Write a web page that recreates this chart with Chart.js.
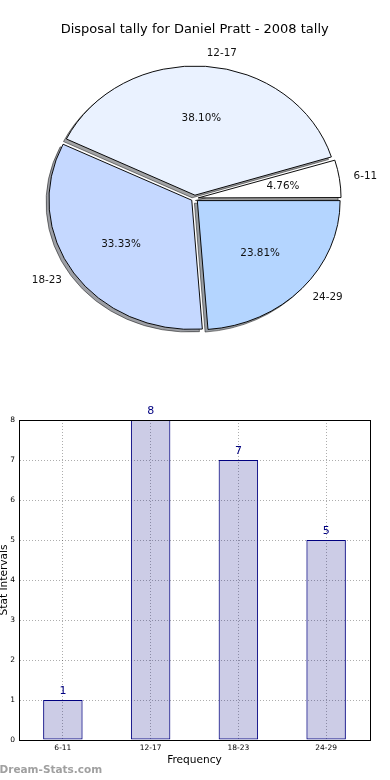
<!DOCTYPE html>
<html><head><meta charset="utf-8">
<script src="https://cdn.jsdelivr.net/npm/chart.js@4.4.1/dist/chart.umd.min.js"></script>
<style>
html,body{margin:0;padding:0;background:#fff;width:390px;height:780px;overflow:hidden;}
#pie{position:absolute;left:0;top:0;}
#bar{position:absolute;left:0;top:390px;}
#wm{position:absolute;left:-0.5px;top:763px;font:bold 10.5px "DejaVu Sans";line-height:13px;color:#a0a0a0;white-space:nowrap;}
</style></head><body>
<canvas id="pie" width="390" height="390"></canvas>
<canvas id="bar" width="390" height="390"></canvas>
<div id="wm">Dream-Stats.com</div>
<script>
// ---- data ----
const chartTitle = 'Disposal tally for Daniel Pratt - 2008 tally';
const categories = ['6-11', '12-17', '18-23', '24-29'];
const tallies = [1, 8, 7, 5];
const sliceColors = ['#ffffff', '#eaf2ff', '#c5d8ff', '#b4d5ff'];
const yTicks = [0, 1, 2, 3, 4, 5, 6, 7, 8];
const xAxisTitle = 'Frequency';
const yAxisTitle = 'Stat Intervals';

// ---- pie ----
const total = tallies.reduce((a, b) => a + b, 0);
const pieLabels = categories.slice().reverse();
const pieValues = tallies.slice().reverse();
const pieColors = sliceColors.slice().reverse();
const R = 142.8;
const RATIO = 129.2 / 142.8;
const EXPLODE = 0.025 * R;
const FONT = '"DejaVu Sans"';

const ellipsePlugin = {
  id: 'ellipse',
  beforeDatasetsDraw(chart) {
    const arcs = chart.getDatasetMeta(0).data;
    if (!arcs.length) return;
    const cx = arcs[0].x, cy = arcs[0].y;
    arcs.forEach(a => {
      const fix = 1 - Math.sin(Math.min(Math.PI, a.circumference));
      a.outerRadius = R - EXPLODE * fix;
    });
    const ctx = chart.ctx;
    // shadow pass
    ctx.save();
    ctx.translate(-2.9, 2.6);
    ctx.translate(cx, cy); ctx.scale(1, RATIO); ctx.translate(-cx, -cy);
    ctx.filter = 'brightness(0.3)';
    ctx.globalAlpha = 0.5;
    arcs.forEach(a => a.draw(ctx));
    ctx.restore();
    // main pass transform
    ctx.save();
    ctx.translate(cx, cy); ctx.scale(1, RATIO); ctx.translate(-cx, -cy);
  },
  afterDatasetsDraw(chart) {
    const ctx = chart.ctx;
    ctx.restore();
    const arcs = chart.getDatasetMeta(0).data;
    if (!arcs.length) return;
    const cx = arcs[0].x, cy = arcs[0].y;
    ctx.save();
    ctx.font = '10.4px ' + FONT;
    ctx.fillStyle = '#111';
    ctx.textBaseline = 'middle';
    arcs.forEach((a, j) => {
      const mid = (a.startAngle + a.endAngle) / 2;
      const c = Math.cos(mid), s = Math.sin(mid);
      const lr = EXPLODE + 1.1 * R;
      ctx.textAlign = c > 0 ? 'left' : 'right';
      ctx.fillText(pieLabels[j], cx + lr * c, cy + lr * s * RATIO);
      const pr = EXPLODE + 0.6 * R;
      ctx.textAlign = 'center';
      ctx.fillText((pieValues[j] / total * 100).toFixed(2) + '%', cx + pr * c, cy + pr * s * RATIO);
    });
    ctx.restore();
  }
};

new Chart(document.getElementById('pie'), {
  type: 'pie',
  data: {
    labels: pieLabels,
    datasets: [{
      data: pieValues,
      backgroundColor: pieColors,
      borderColor: '#000',
      borderWidth: 1,
      borderJoinStyle: 'miter',
      offset: 4 * EXPLODE,
      radius: R,
      rotation: 90
    }]
  },
  options: {
    responsive: false, animation: false, events: [],
    layout: { padding: { top: 0, left: 0, right: 0.6, bottom: 30.8 } },
    plugins: {
      legend: { display: false },
      tooltip: { enabled: false },
      title: {
        display: true, text: chartTitle, color: '#000',
        font: { family: 'DejaVu Sans', size: 13, weight: 'normal', lineHeight: 1.2 },
        padding: { top: 22, bottom: 0 }
      }
    }
  },
  plugins: [ellipsePlugin]
});

// ---- bar ----
const valueLabels = {
  id: 'vals',
  afterDraw(chart) {
    const ctx = chart.ctx;
    const meta = chart.getDatasetMeta(0);
    ctx.save();
    ctx.font = '11px ' + FONT;
    ctx.fillStyle = '#000080';
    ctx.textAlign = 'center';
    ctx.textBaseline = 'middle';
    meta.data.forEach((b, i) => ctx.fillText(String(tallies[i]), b.x, b.y - 9));
    ctx.restore();
  }
};

const gridStyle = { color: 'rgba(0,0,0,0.32)', lineWidth: 1, drawTicks: false };
const borderStyle = { display: true, color: '#000', width: 1, dash: [1, 2], z: 1 };

new Chart(document.getElementById('bar'), {
  type: 'bar',
  data: {
    labels: categories,
    datasets: [{
      data: tallies,
      backgroundColor: 'rgba(0,0,128,0.2)',
      borderColor: '#000080',
      borderWidth: 1,
      borderSkipped: false,
      inflateAmount: 0,
      barPercentage: 0.45,
      categoryPercentage: 1
    }]
  },
  options: {
    responsive: false, animation: false, events: [],
    layout: { padding: 0 },
    plugins: { legend: { display: false }, tooltip: { enabled: false } },
    scales: {
      x: {
        type: 'category', position: 'bottom', offset: true,
        grid: Object.assign({}, gridStyle, { offset: false }),
        border: borderStyle,
        ticks: { font: { family: 'DejaVu Sans', size: 7.5 }, color: '#000', padding: 4, maxRotation: 0, autoSkip: false },
        title: { display: true, text: xAxisTitle, color: '#000', font: { family: 'DejaVu Sans', size: 10.6, lineHeight: 1.2 }, padding: { top: 0, bottom: 13.6 } },
        afterFit(s) { s.height = 40; }
      },
      x2: {
        type: 'category', position: 'top', offset: true,
        grid: { display: false }, ticks: { display: false },
        border: { display: true, color: '#000', width: 1, z: 1 },
        afterFit(s) { s.height = 30; }
      },
      y: {
        type: 'linear', position: 'left', min: yTicks[0], max: yTicks[yTicks.length - 1],
        grid: gridStyle,
        border: borderStyle,
        ticks: { stepSize: 1, font: { family: 'DejaVu Sans', size: 7.5 }, color: '#000', padding: 4 },
        title: { display: true, text: yAxisTitle, color: '#000', font: { family: 'DejaVu Sans', size: 10.6, lineHeight: 0.75 }, padding: 0 },
        afterFit(s) { s.width = 19; }
      },
      y2: {
        type: 'linear', position: 'right', min: yTicks[0], max: yTicks[yTicks.length - 1],
        grid: { display: false }, ticks: { display: false },
        border: { display: true, color: '#000', width: 1, z: 1 },
        afterFit(s) { s.width = 20; }
      }
    }
  },
  plugins: [valueLabels]
});
</script>
</body></html>
